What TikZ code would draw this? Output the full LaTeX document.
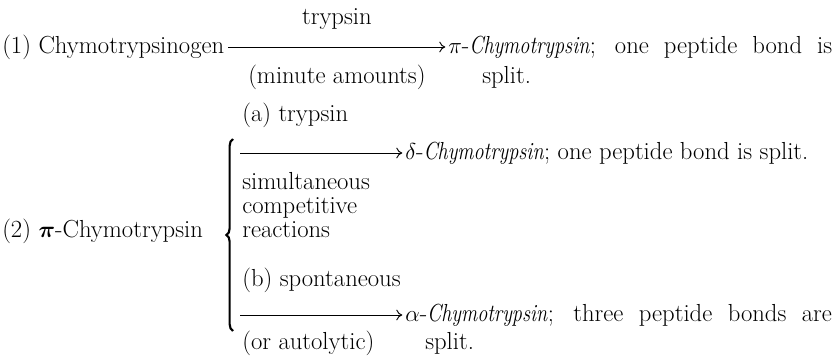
\documentclass[tikz,border=0pt]{standalone}
\usepackage{graphicx}
\usepackage{bm}
\usetikzlibrary{decorations.pathreplacing,arrows.meta}
\newcommand{\chymo}{\scalebox{0.82}[1]{\textit{Chymotrypsin}}}
\begin{document}
\begin{tikzpicture}[x=0.75pt,y=-0.75pt,
  txt/.style={anchor=base west,inner sep=0pt,font=\fontsize{18.5}{22}\selectfont},
  ctxt/.style={anchor=base,inner sep=0pt,font=\fontsize{18.5}{22}\selectfont},
  rxn/.style={line width=0.7pt,-{To[length=4.5pt,width=8pt]}},
  bracestyle/.style={line width=1.6pt,decorate,decoration={brace,amplitude=5pt}},
]
\useasboundingbox (0,0) rectangle (840,357);
% reaction 1
\node[txt] (c1) at (2,53) {(1) Chymotrypsinogen};
\node[txt] (p1) at (448,53) {\makebox[288pt][s]{$\pi$-\chymo; one peptide bond is}};
\node[txt] (s1) at (482,83) {split.};
\coordinate (r1) at (0,47);
\draw[rxn] ([xshift=3pt]c1.east |- r1) -- ([xshift=-2pt]p1.west |- r1) coordinate[pos=0.5] (m1);
\node[ctxt] (t1) at (m1 |- 0,24) {trypsin};
\node[ctxt] (u1) at (m1 |- 0,83) {(minute amounts)};
% reaction 2
\node[txt] (c2) at (2,237) {(2) $\bm{\pi}$-Chymotrypsin};
\coordinate (btop) at (233,139);
\coordinate (bbot) at (233,331);
\draw[bracestyle] (bbot) -- (btop);
\node[txt] (ta) at (242,121) {(a) trypsin};
\node[txt] (pa) at (405,159) {$\delta$-\chymo; one peptide bond is split.};
\coordinate (ra) at (240,153);
\draw[rxn] (ra) -- ([xshift=-2pt]pa.west |- ra);
\node[txt] (sim) at (242,189) {simultaneous};
\node[txt] (com) at (242,213) {competitive};
\node[txt] (rea) at (242,237) {reactions};
\node[txt] (tb) at (242,286) {(b) spontaneous};
\node[txt] (pb) at (405,321) {\makebox[320pt][s]{$\alpha$-\chymo; three peptide bonds are}};
\node[txt] (sb) at (425,349) {split.};
\coordinate (rb) at (240,315);
\draw[rxn] (rb) -- ([xshift=-2pt]pb.west |- rb);
\node[txt] (ub) at (242,349) {(or autolytic)};
\end{tikzpicture}
\end{document}
